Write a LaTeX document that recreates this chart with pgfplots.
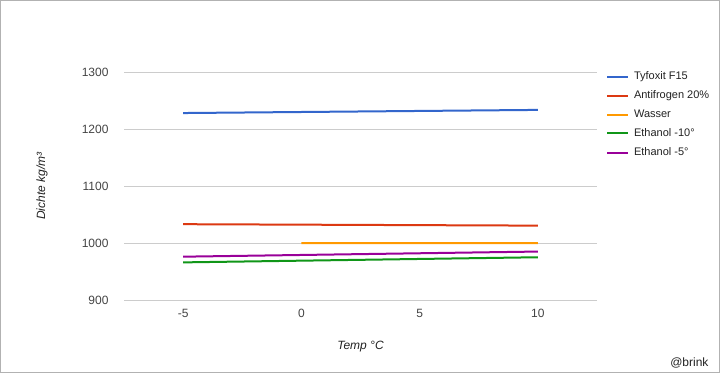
\documentclass[border=0pt]{standalone}
\usepackage{pgfplots}
\pgfplotsset{compat=1.18}
\usepackage{fontspec}
\setmainfont{Liberation Sans}
\definecolor{gblue}{HTML}{3366CC}
\definecolor{gred}{HTML}{DC3912}
\definecolor{gorange}{HTML}{FF9900}
\definecolor{ggreen}{HTML}{109618}
\definecolor{gpurple}{HTML}{990099}
\definecolor{gridc}{HTML}{CCCCCC}
\definecolor{txtc}{HTML}{444444}
\definecolor{ttlc}{HTML}{222222}
\begin{document}
\begin{tikzpicture}[x=1pt,y=1pt]
\draw[draw=gray!60, line width=1pt, fill=white] (0.5,0.5) rectangle (719.5,372.5);
\begin{axis}[
  at={(124pt,73pt)}, anchor=south west,
  scale only axis, width=473pt, height=228pt,
  xmin=-7.5, xmax=12.5, ymin=900, ymax=1300,
  xtick={-5,0,5,10}, ytick={900,1000,1100,1200,1300},
  ymajorgrids, grid style={color=gridc, line width=0.8pt},
  axis line style={draw=none}, major tick length=0pt,
  /pgf/number format/1000 sep={},
  /pgf/number format/assume math mode=true,
  tick label style={font=\fontsize{12}{14}\selectfont, color=txtc},
  yticklabel style={xshift=-12pt},
  xticklabel style={yshift=-6pt},
  xlabel={Temp °C}, ylabel={Dichte kg/m³},
  label style={font=\fontsize{12}{14}\selectfont\itshape, color=ttlc},
  xlabel style={at={(rel axis cs:0.5,0)}, anchor=center, yshift=-47pt},
  ylabel style={at={(rel axis cs:0,0.5)}, anchor=center, yshift=82pt},
  clip=false,
  legend style={at={(rel axis cs:1.0195,1.01)}, anchor=north west, draw=none, fill=none,
    font=\fontsize{11}{13}\selectfont, text=ttlc, row sep=5.6pt, inner sep=0pt,
    nodes={inner xsep=4.6pt}},
  legend cell align=left,
  legend image code/.code={\draw[#1, line width=2pt] (0pt,0pt) -- (21pt,0pt);},
  every axis plot/.append style={line width=2pt},
]
\addplot[gblue] coordinates {(-5,1228) (10,1233.5)};
\addlegendentry{Tyfoxit F15}
\addplot[gred] coordinates {(-5,1033) (10,1030.5)};
\addlegendentry{Antifrogen 20\%}
\addplot[gorange] coordinates {(0,999.8) (10,999.7)};
\addlegendentry{Wasser}
\addplot[ggreen] coordinates {(-5,966) (10,975)};
\addlegendentry{Ethanol -10°}
\addplot[gpurple] coordinates {(-5,976) (10,985)};
\addlegendentry{Ethanol -5°}
\end{axis}
\node[anchor=base east, font=\fontsize{12}{14}\selectfont, text=ttlc] at (712pt,7pt) {@brink};
\end{tikzpicture}
\end{document}
